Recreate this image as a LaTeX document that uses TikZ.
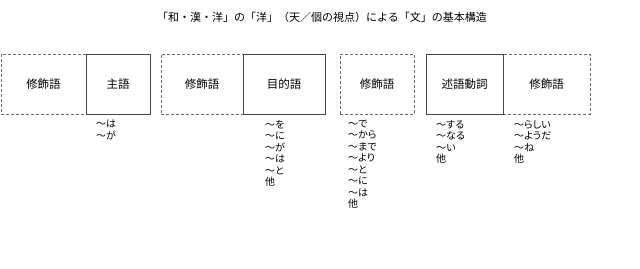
\documentclass[tikz,border=0pt]{standalone}
\usepackage{fontspec}
\setmainfont{Noto Sans CJK JP}
\newfontfamily\jpprop[RawFeature=+palt]{Noto Sans CJK JP}
\usetikzlibrary{positioning}

\begin{document}
\begin{tikzpicture}[x=1pt,y=-1pt]
\colorlet{solidgray}{black!72}
\colorlet{dashgray}{black!58}
\tikzset{
  partbox/.style={draw=solidgray,line width=0.9pt,minimum height=60pt,inner sep=0pt,outer sep=0pt,font=\fontsize{11.5}{13}\selectfont},
  modbox/.style={partbox,draw=dashgray,dash pattern=on 3pt off 2pt},
  caselist/.style={anchor=north west,align=left,inner sep=0pt,font=\jpprop\fontsize{10}{11.5}\selectfont}
}
\useasboundingbox (0,0) rectangle (640,268);

\node (title) at (322,17) {\fontsize{11}{13}\selectfont 「和・漢・洋」の「洋」（天／個の視点）による「文」の基本構造};

% modifiers first, so the solid edges lie on top
\node[modbox,minimum width=85pt,anchor=west] (modA) at (1,84) {修飾語};
\node[modbox,minimum width=82pt,anchor=west] (modB) at (161,84) {修飾語};
\node[modbox,minimum width=74pt,anchor=west] (modC) at (340,84) {修飾語};
\node[modbox,minimum width=87pt,anchor=west] (modD) at (503,84) {修飾語};

\node[partbox,minimum width=64pt,right=0pt of modA] (subject) {主語};
\node[partbox,minimum width=82pt,right=0pt of modB] (object) {目的語};
\node[partbox,minimum width=77pt,left=0pt of modD] (predicate) {述語動詞};

\node[caselist] (subjcase) at (96,120) {～は\\～が};
\node[caselist] (objcase) at (265,120) {～を\\～に\\～が\\～は\\～と\\他};
\node[caselist] (modcase) at (348,120) {～で\\～から\\～まで\\～より\\～と\\～に\\～は\\他};
\node[caselist] (predcase) at (436,120) {～する\\～なる\\～い\\他};
\node[caselist] (endcase) at (514,120) {～らしい\\～ようだ\\～ね\\他};
\end{tikzpicture}
\end{document}
